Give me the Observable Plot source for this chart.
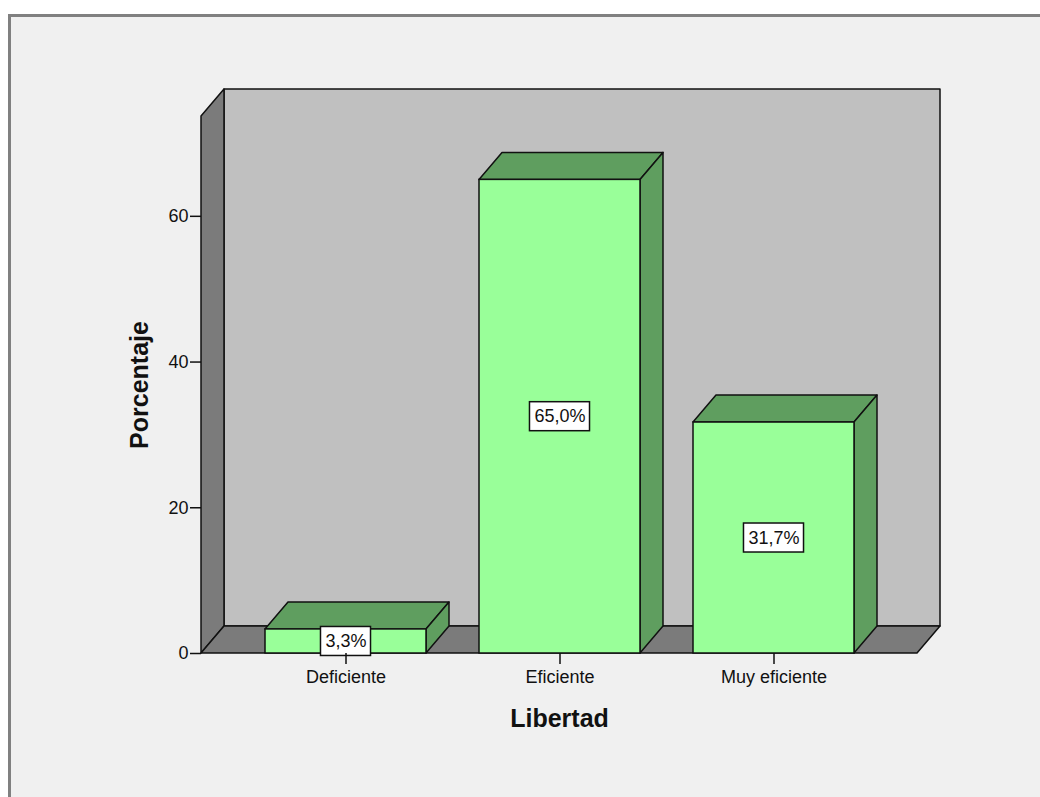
<!DOCTYPE html>
<html><head><meta charset="utf-8">
<script src="https://cdn.jsdelivr.net/npm/d3@7"></script>
<script src="https://cdn.jsdelivr.net/npm/@observablehq/plot@0.6"></script>
<style>
html,body{margin:0;padding:0;background:#fff;width:1040px;height:797px;overflow:hidden}
#frame{position:absolute;left:8px;top:14px;right:0;bottom:0;background:#f0f0f0;border-left:3px solid #808080;border-top:3px solid #808080}
#chart{position:absolute;left:0;top:0}
</style></head><body><div id="frame"></div><div id="chart"></div>
<script>
const categories = ["Deficiente", "Eficiente", "Muy eficiente"];
const percentages = [3.3, 65.0, 31.7];
const yTicks = [0, 20, 40, 60];
const yMax = 73.7;
const xTitle = "Libertad";
const yTitle = "Porcentaje";

const data = categories.map((c, i) => ({category: c, value: percentages[i]}));
const fmt = v => v.toFixed(1).replace(".", ",") + "%";
const DX = 23, DY = -27;
const FONT = "'Liberation Sans', Arial, sans-serif";

function pts(a) { return a.map(p => p.join(",")).join(" "); }

function walls(index, scales, values, dims) {
  const l = dims.marginLeft, r = dims.width - dims.marginRight;
  const b = scales.y(0), t = scales.y(yMax);
  const g = d3.create("svg:g").attr("stroke", "#111").attr("stroke-width", 1.5).attr("stroke-linejoin", "round");
  g.append("polygon").attr("fill", "#c0c0c0").attr("points", pts([[l+DX, t+DY], [r+DX, t+DY], [r+DX, b+DY], [l+DX, b+DY]]));
  g.append("polygon").attr("fill", "#7b7b7b").attr("points", pts([[l, t], [l+DX, t+DY], [l+DX, b+DY], [l, b]]));
  g.append("polygon").attr("fill", "#7b7b7b").attr("points", pts([[l, b], [l+DX, b+DY], [r+DX, b+DY], [r, b]]));
  return g.node();
}

function barDepth(index, scales) {
  const x = scales.x, y = scales.y, bw = x.bandwidth();
  const g = d3.create("svg:g").attr("stroke", "#111").attr("stroke-width", 1.5).attr("stroke-linejoin", "round").attr("fill", "#5f9e5f");
  for (const d of data) {
    const x0 = x(d.category), x1 = x0 + bw, y0 = y(0), y1 = y(d.value);
    g.append("polygon").attr("points", pts([[x0, y1], [x0+DX, y1+DY], [x1+DX, y1+DY], [x1, y1]]));
    g.append("polygon").attr("points", pts([[x1, y1], [x1+DX, y1+DY], [x1+DX, y0+DY], [x1, y0]]));
  }
  return g.node();
}

function labelBoxes(index, scales) {
  const x = scales.x, y = scales.y, bw = x.bandwidth();
  const ctx = document.createElement("canvas").getContext("2d");
  ctx.font = "18px " + FONT;
  const g = d3.create("svg:g").attr("stroke", "#111").attr("stroke-width", 1.5).attr("fill", "#fff");
  for (const d of data) {
    const w = ctx.measureText(fmt(d.value)).width + 9, h = 29;
    const cx = x(d.category) + bw / 2, cy = y(d.value / 2);
    g.append("rect").attr("x", cx - w / 2).attr("y", cy - h / 2).attr("width", w).attr("height", h);
  }
  return g.node();
}

const chart = Plot.plot({
  width: 1040, height: 797,
  marginLeft: 201, marginRight: 123, marginTop: 116, marginBottom: 144,
  x: {domain: categories, paddingInner: 0.25, paddingOuter: 0.294, label: null},
  y: {domain: [0, yMax], label: null},
  style: {fontFamily: FONT, fontSize: "18px", color: "#111", background: "transparent", overflow: "visible"},
  marks: [
    walls,
    barDepth,
    Plot.barY(data, {x: "category", y: "value", fill: "#99ff99", stroke: "#111", strokeWidth: 1.5}),
    labelBoxes,
    Plot.text(data, {x: "category", y: d => d.value / 2, text: d => fmt(d.value), fontSize: 18}),
    Plot.axisX({tickSize: 11, tickPadding: 6, label: null, strokeWidth: 1.5}),
    Plot.axisY(yTicks, {tickSize: 11, tickPadding: 2, label: null, strokeWidth: 1.5}),
    Plot.text([xTitle], {text: d => d, frameAnchor: "bottom", textAnchor: "middle", lineAnchor: "middle", dy: 65, fontWeight: "bold", fontSize: 25}),
    Plot.text([yTitle], {text: d => d, frameAnchor: "left", textAnchor: "middle", lineAnchor: "middle", dx: -62, rotate: -90, fontWeight: "bold", fontSize: 25})
  ]
});
document.getElementById("chart").appendChild(chart);
</script></body></html>
